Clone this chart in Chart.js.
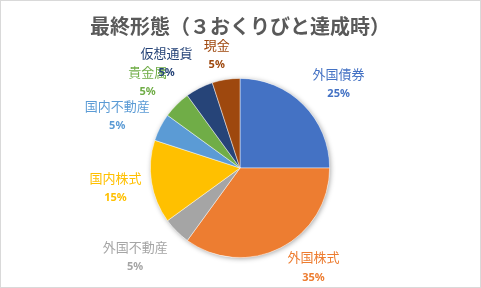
<!DOCTYPE html>
<html><head><meta charset="utf-8">
<script src="https://cdn.jsdelivr.net/npm/chart.js@4/dist/chart.umd.min.js"></script>
<style>
html,body{margin:0;padding:0;background:#fff;}
#wrap{position:absolute;left:0;top:0;width:481px;height:288px;}
#frame{position:absolute;left:0;top:0;width:481px;height:288px;box-sizing:border-box;border:1px solid #d9d9d9;pointer-events:none;}
</style></head>
<body>
<div id="wrap"><canvas id="c" width="481" height="288"></canvas></div>
<div id="frame"></div>
<script>
const titleText = '最終形態（３おくりびと達成時）';
const categories = ['外国債券','外国株式','外国不動産','国内株式','国内不動産','貴金属','仮想通貨','現金'];
const shares = [25,35,5,15,5,5,5,5];
const colors = ['#4472C4','#ED7D31','#A5A5A5','#FFC000','#5B9BD5','#70AD47','#264478','#9E480E'];
// label centre positions relative to pie centre, in pie-radius units
const labelOffsets = [[1.10,-0.94],[0.82,1.11],[-1.17,0.99],[-1.39,0.22],[-1.37,-0.58],[-1.03,-0.96],[-0.82,-1.17],[-0.26,-1.26]];

const total = shares.reduce((a,b)=>a+b,0);

const shadowPlugin = {
  id:'pieShadow',
  beforeDatasetsDraw(chart){
    const arc = chart.getDatasetMeta(0).data[0];
    if(!arc) return;
    const ctx = chart.ctx;
    ctx.save();
    ctx.shadowColor = 'rgba(0,0,0,0.35)';
    ctx.shadowBlur = 5;
    ctx.shadowOffsetX = 1;
    ctx.shadowOffsetY = 1;
    ctx.fillStyle = '#ffffff';
    ctx.beginPath();
    ctx.arc(arc.x, arc.y, arc.outerRadius, 0, Math.PI*2);
    ctx.fill();
    ctx.restore();
  }
};

const labelPlugin = {
  id:'pieLabels',
  afterDatasetsDraw(chart){
    const meta = chart.getDatasetMeta(0);
    const ctx = chart.ctx;
    ctx.save();
    ctx.textAlign = 'center';
    ctx.textBaseline = 'middle';
    meta.data.forEach((arc,i)=>{
      const r = arc.outerRadius;
      const cx = arc.x + labelOffsets[i][0]*r;
      const cy = arc.y + labelOffsets[i][1]*r;
      ctx.fillStyle = colors[i];
      ctx.font = '13px "Noto Sans CJK JP", "Noto Sans", sans-serif';
      ctx.fillText(categories[i], cx, cy-10);
      ctx.font = 'bold 11px "Noto Sans", "Noto Sans CJK JP", sans-serif';
      const pct = Math.round(shares[i]/total*100) + '%';
      ctx.fillText(pct, cx, cy+10);
    });
    ctx.restore();
  }
};

new Chart(document.getElementById('c'), {
  type:'pie',
  data:{
    labels:categories,
    datasets:[{
      data:shares,
      backgroundColor:colors,
      borderColor:'rgba(255,255,255,0.6)',
      borderWidth:0.75
    }]
  },
  options:{
    responsive:false,
    animation:false,
    layout:{padding:{top:4,bottom:30,left:0,right:1}},
    plugins:{
      legend:{display:false},
      tooltip:{enabled:false},
      title:{
        display:true,
        text:titleText,
        color:'#595959',
        font:{family:'"Noto Sans CJK JP", sans-serif',size:20,weight:'bold',lineHeight:1.2},
        padding:{top:10,bottom:40}
      }
    }
  },
  plugins:[shadowPlugin,labelPlugin]
});
</script>
</body></html>
